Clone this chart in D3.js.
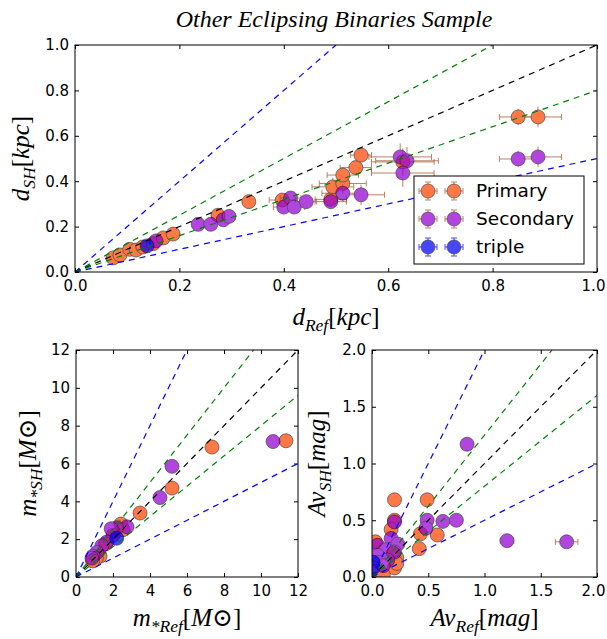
<!DOCTYPE html>
<html>
<head>
<meta charset="utf-8">
<script src="https://cdn.jsdelivr.net/npm/d3@7"></script>
<style>
  body { margin: 0; background: #fff; }
  svg { display: block; }
  .tick text { font-family: "DejaVu Sans", sans-serif; font-size: 15px; fill: #000; }
  .tick line { stroke: #000; }
</style>
</head>
<body>
<svg width="607" height="639"></svg>
<script>
// ---- distance panel (kpc) ----
var dPrimRef = [0.073, 0.086, 0.105, 0.117, 0.13, 0.15, 0.169, 0.188, 0.274, 0.333, 0.397, 0.49, 0.494, 0.513, 0.513, 0.538, 0.548, 0.628, 0.849, 0.887];
var dPrimSH  = [0.062, 0.075, 0.1, 0.097, 0.11, 0.125, 0.15, 0.167, 0.25, 0.31, 0.317, 0.32, 0.375, 0.39, 0.427, 0.46, 0.515, 0.485, 0.683, 0.683];
var dPrimErr = [0.008, 0.008, 0.008, 0.01, 0.01, 0.01, 0.01, 0.01, 0.012, 0.01, 0.025, 0.03, 0.04, 0.045, 0.03, 0.03, 0.02, 0.06, 0.036, 0.045];

var dSecRef = [0.155, 0.236, 0.26, 0.284, 0.295, 0.4, 0.413, 0.42, 0.443, 0.49, 0.513, 0.548, 0.623, 0.636, 0.628, 0.849, 0.887];
var dSecSH  = [0.137, 0.21, 0.21, 0.23, 0.245, 0.286, 0.326, 0.286, 0.31, 0.31, 0.347, 0.34, 0.507, 0.49, 0.436, 0.498, 0.507];
var dSecErr = [0.01, 0.01, 0.01, 0.012, 0.012, 0.02, 0.02, 0.02, 0.02, 0.03, 0.04, 0.045, 0.06, 0.06, 0.06, 0.036, 0.045];

var dTripRef = [0.138], dTripSH = [0.115], dTripErr = [0.008];

// ---- mass panel (Msun) ----
var mPrimRef = [11.35, 7.35, 5.19, 3.46, 2.43, 2.54, 2.0, 1.6, 1.3, 1.1, 0.9];
var mPrimSH  = [7.2, 6.87, 4.7, 3.38, 2.8, 2.5, 2.2, 1.75, 1.1, 1.0, 0.85];
var mPrimErr = [0.15, 0.15, 0.15, 0.12, 0.1, 0.1, 0.1, 0.08, 0.06, 0.06, 0.05];

var mSecRef = [10.65, 5.19, 4.54, 2.76, 2.2, 2.0, 1.9, 1.67, 1.4, 1.13, 0.92, 0.86];
var mSecSH  = [7.16, 5.85, 4.2, 2.65, 2.6, 2.4, 2.55, 1.85, 1.65, 1.3, 1.1, 1.0];
var mSecErr = [0.15, 0.15, 0.12, 0.1, 0.1, 0.1, 0.1, 0.08, 0.06, 0.06, 0.05, 0.05];

var mTripRef = [2.2], mTripSH = [2.05], mTripErr = [0.08];

// ---- extinction panel (mag) ----
var avPrimRef = [0.2, 0.49, 0.2, 0.43, 0.58, 0.42, 0.17, 0.2, 0.03, 0.22, 0.19, 0.03, 0.1, 0.22];
var avPrimSH  = [0.68, 0.68, 0.5, 0.38, 0.37, 0.25, 0.42, 0.08, 0.31, 0.17, 0.21, 0.05, 0.02, 0.12];
var avPrimErr = [0.02, 0.02, 0.02, 0.02, 0.02, 0.02, 0.02, 0.02, 0.02, 0.02, 0.02, 0.02, 0.02, 0.02];

var avSecRef = [0.845, 0.2, 0.49, 0.48, 0.63, 0.75, 1.2, 1.73, 0.05, 0.17, 0.23, 0.12, 0.2, 0.05, 0.14, 0.07, 0.1];
var avSecSH  = [1.17, 0.485, 0.5, 0.43, 0.49, 0.5, 0.32, 0.31, 0.28, 0.34, 0.29, 0.24, 0.22, 0.19, 0.15, 0.13, 0.1];
var avSecErr = [0.02, 0.02, 0.02, 0.02, 0.02, 0.02, 0.06, 0.1, 0.02, 0.02, 0.02, 0.02, 0.02, 0.02, 0.02, 0.02, 0.02];

var avTripRef = [0.01, 0.01], avTripSH = [0.13, 0.08], avTripErr = [0.01, 0.01];

// reference lines y = k x
var slopes = [2, 1.25, 1, 0.8, 0.5];
var slopeColors = ["#0000ff", "#008000", "#000000", "#008000", "#0000ff"];

var legendNames = ["Primary", "Secondary", "triple"];
var fillColors = ["#ff4500", "#9400d3", "#0000ff"];
var errColors = ["#a0522d", "#a0522d", "#0000ff"];

var svg = d3.select("svg");
var R = 7;

function zip(xs, ys, es) {
  return xs.map(function (v, i) { return { x: v, y: ys[i], e: es[i] }; });
}

// math-ish label: parts = [text, italic, sub]
function mathLabel(sel, parts, size) {
  var t = sel.append("text")
    .attr("font-family", "'Liberation Serif', 'DejaVu Serif', serif")
    .attr("font-size", size)
    .attr("text-anchor", "middle");
  var shifted = false;
  parts.forEach(function (p) {
    var ts = t.append("tspan").text(p[0]).attr("font-style", p[1] ? "italic" : "normal");
    if (p[2] && !shifted) { ts.attr("dy", size * 0.25).attr("font-size", size * 0.7); shifted = true; }
    else if (p[2]) { ts.attr("font-size", size * 0.7); }
    else if (shifted) { ts.attr("dy", -size * 0.25); shifted = false; }
  });
  return t;
}

function panel(cfg) {
  var x = d3.scaleLinear().domain(cfg.xd).range([cfg.x0, cfg.x1]);
  var y = d3.scaleLinear().domain(cfg.yd).range([cfg.y1, cfg.y0]);
  var g = svg.append("g");
  var id = "clip" + cfg.name;

  g.append("clipPath").attr("id", id).append("rect")
    .attr("x", cfg.x0).attr("y", cfg.y0)
    .attr("width", cfg.x1 - cfg.x0).attr("height", cfg.y1 - cfg.y0);

  // axes with inward ticks on all four sides
  g.append("g").attr("transform", "translate(0," + cfg.y1 + ")")
    .call(d3.axisBottom(x).tickValues(cfg.xt).tickFormat(cfg.xf).tickSize(-4).tickSizeOuter(0).tickPadding(8))
    .call(function (a) {
      a.select(".domain").remove();
      // keep the last label inside the page edge
      if (cfg.x1 > 590) a.selectAll(".tick:last-of-type text").attr("dx", -4);
    });
  g.append("g").attr("transform", "translate(" + cfg.x0 + ",0)")
    .call(d3.axisLeft(y).tickValues(cfg.yt).tickFormat(cfg.yf).tickSize(-4).tickSizeOuter(0).tickPadding(6))
    .call(function (a) { a.select(".domain").remove(); });
  g.append("g").attr("transform", "translate(0," + cfg.y0 + ")")
    .call(d3.axisTop(x).tickValues(cfg.xt).tickFormat("").tickSize(-4).tickSizeOuter(0))
    .call(function (a) { a.select(".domain").remove(); });
  g.append("g").attr("transform", "translate(" + cfg.x1 + ",0)")
    .call(d3.axisRight(y).tickValues(cfg.yt).tickFormat("").tickSize(-4).tickSizeOuter(0))
    .call(function (a) { a.select(".domain").remove(); });

  var plot = g.append("g").attr("clip-path", "url(#" + id + ")");

  cfg.series.forEach(function (s, k) {
    var sg = plot.append("g").attr("opacity", 0.72);
    var eb = sg.selectAll("g.eb").data(s).enter().append("g")
      .attr("stroke", errColors[k]).attr("stroke-width", 1);
    if (cfg.errX) {
      eb.append("line")
        .attr("x1", function (d) { return x(d.x - d.e); })
        .attr("x2", function (d) { return x(d.x + d.e); })
        .attr("y1", function (d) { return y(d.y); })
        .attr("y2", function (d) { return y(d.y); });
      [-1, 1].forEach(function (sgn) {
        eb.append("line")
          .attr("x1", function (d) { return x(d.x + sgn * d.e); })
          .attr("x2", function (d) { return x(d.x + sgn * d.e); })
          .attr("y1", function (d) { return y(d.y) - 3; })
          .attr("y2", function (d) { return y(d.y) + 3; });
      });
    }
    if (cfg.errY) {
      eb.append("line")
        .attr("x1", function (d) { return x(d.x); })
        .attr("x2", function (d) { return x(d.x); })
        .attr("y1", function (d) { return y(d.y - d.e); })
        .attr("y2", function (d) { return y(d.y + d.e); });
    }
    sg.selectAll("circle").data(s).enter().append("circle")
      .attr("cx", function (d) { return x(d.x); })
      .attr("cy", function (d) { return y(d.y); })
      .attr("r", R)
      .attr("fill", fillColors[k])
      .attr("stroke", "#000")
      .attr("stroke-width", 0.7);
  });

  // dashed 1:1 and ratio lines, over the points
  slopes.forEach(function (k, i) {
    var xe = Math.min(cfg.xd[1], cfg.yd[1] / k);
    plot.append("line")
      .attr("x1", x(0)).attr("y1", y(0))
      .attr("x2", x(xe)).attr("y2", y(k * xe))
      .attr("stroke", slopeColors[i])
      .attr("stroke-width", 1.2)
      .attr("stroke-dasharray", "6,5");
  });

  g.append("rect")
    .attr("x", cfg.x0).attr("y", cfg.y0)
    .attr("width", cfg.x1 - cfg.x0).attr("height", cfg.y1 - cfg.y0)
    .attr("fill", "none").attr("stroke", "#000").attr("stroke-width", 1);

  mathLabel(g, cfg.xl, cfg.ls).attr("x", (cfg.x0 + cfg.x1) / 2).attr("y", cfg.xly);
  mathLabel(g.append("g").attr("transform", "translate(" + cfg.ylx + "," + (cfg.y0 + cfg.y1) / 2 + ") rotate(-90)"), cfg.yl, cfg.ls);

  return { x: x, y: y, g: g };
}

var f1 = d3.format(".1f");

panel({
  name: "d", xd: [0, 1], yd: [0, 1], x0: 75, x1: 597, y0: 45, y1: 272,
  xt: d3.range(0, 1.01, 0.2), yt: d3.range(0, 1.01, 0.2), xf: f1, yf: f1,
  errX: true, errY: true,
  series: [zip(dPrimRef, dPrimSH, dPrimErr), zip(dSecRef, dSecSH, dSecErr), zip(dTripRef, dTripSH, dTripErr)],
  xl: [["d", true], ["Ref", true, true], ["["], ["kpc", true], ["]"]],
  yl: [["d", true], ["SH", true, true], ["["], ["kpc", true], ["]"]],
  ls: 25, xly: 325, ylx: 29
});

panel({
  name: "m", xd: [0, 12], yd: [0, 12], x0: 76, x1: 298, y0: 350, y1: 577,
  xt: d3.range(0, 13, 2), yt: d3.range(0, 13, 2), xf: d3.format("d"), yf: d3.format("d"),
  errX: true, errY: true,
  series: [zip(mPrimRef, mPrimSH, mPrimErr), zip(mSecRef, mSecSH, mSecErr), zip(mTripRef, mTripSH, mTripErr)],
  xl: [["m", true], ["*Ref", true, true], ["["], ["M", true], ["\u2299"], ["]"]],
  yl: [["m", true], ["*SH", true, true], ["["], ["M", true], ["\u2299"], ["]"]],
  ls: 25, xly: 626, ylx: 36
});

panel({
  name: "av", xd: [0, 2], yd: [0, 2], x0: 372, x1: 597, y0: 350, y1: 577,
  xt: d3.range(0, 2.01, 0.5), yt: d3.range(0, 2.01, 0.5), xf: f1, yf: f1,
  errX: true, errY: false,
  series: [zip(avPrimRef, avPrimSH, avPrimErr), zip(avSecRef, avSecSH, avSecErr), zip(avTripRef, avTripSH, avTripErr)],
  xl: [["Av", true], ["Ref", true, true], ["["], ["mag", true], ["]"]],
  yl: [["Av", true], ["SH", true, true], ["["], ["mag", true], ["]"]],
  ls: 25, xly: 626, ylx: 325
});

// title
svg.append("text")
  .attr("x", 334).attr("y", 27)
  .attr("text-anchor", "middle")
  .attr("font-family", "'Liberation Serif', 'DejaVu Serif', serif")
  .attr("font-style", "italic")
  .attr("font-size", 24)
  .text("Other Eclipsing Binaries Sample");

// legend
var lg = svg.append("g").attr("transform", "translate(414,176)");
lg.append("rect").attr("width", 170).attr("height", 88)
  .attr("fill", "#fff").attr("stroke", "#000").attr("stroke-width", 1);
legendNames.forEach(function (name, k) {
  var row = lg.append("g").attr("transform", "translate(0," + (15 + k * 28) + ")");
  [14, 40].forEach(function (cx) {
    var m = row.append("g").attr("opacity", 0.72);
    m.append("line").attr("x1", cx - 9).attr("x2", cx + 9).attr("stroke", errColors[k]);
    m.append("line").attr("y1", -9).attr("y2", 9).attr("x1", cx).attr("x2", cx).attr("stroke", errColors[k]);
    m.append("line").attr("x1", cx - 9).attr("x2", cx - 9).attr("y1", -3).attr("y2", 3).attr("stroke", errColors[k]);
    m.append("line").attr("x1", cx + 9).attr("x2", cx + 9).attr("y1", -3).attr("y2", 3).attr("stroke", errColors[k]);
    m.append("line").attr("x1", cx - 3).attr("x2", cx + 3).attr("y1", -9).attr("y2", -9).attr("stroke", errColors[k]);
    m.append("line").attr("x1", cx - 3).attr("x2", cx + 3).attr("y1", 9).attr("y2", 9).attr("stroke", errColors[k]);
    m.append("circle").attr("cx", cx).attr("r", R)
      .attr("fill", fillColors[k]).attr("stroke", "#000").attr("stroke-width", 0.7);
  });
  row.append("text").attr("x", 62).attr("dy", "0.35em")
    .attr("font-family", "'DejaVu Sans', sans-serif").attr("font-size", 18.5)
    .text(name);
});
</script>
</body>
</html>
